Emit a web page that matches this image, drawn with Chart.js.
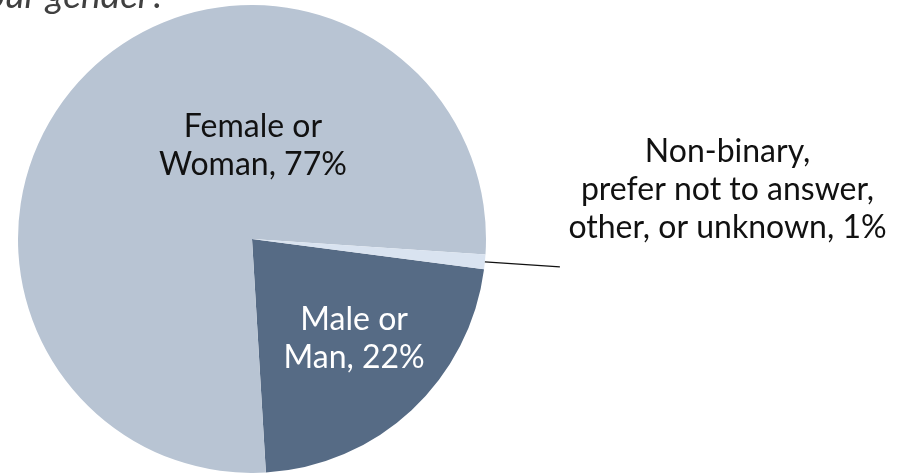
<!DOCTYPE html>
<html>
<head>
<meta charset="utf-8">
<script src="https://cdn.jsdelivr.net/npm/chart.js@4/dist/chart.umd.min.js"></script>
<style>
  html, body { margin: 0; padding: 0; background: #fff; }
  #wrap { width: 899px; height: 473px; position: relative; }
</style>
</head>
<body>
<div id="wrap"><canvas id="pie"></canvas></div>
<script>
// slice order is clockwise starting just below 3 o'clock
const categories = ["Male or Man", "Female or Woman", "Non-binary, prefer not to answer, other, or unknown"]
const shares = [22, 77, 1]
const sliceColors = ["#566b85", "#b8c4d3", "#d9e3f0"]
const labelLines = [
  ["Male or", "Man, 22%"],
  ["Female or", "Woman, 77%"],
  ["Non-binary,", "prefer not to answer,", "other, or unknown, 1%"]
]
const titleText = "What is your gender?"

const FONT = "Lato, 'Open Sans', sans-serif"
const LH = 38

function block(ctx, lines, cx, midY) {
  const n = lines.length
  lines.forEach((t, i) => ctx.fillText(t, cx, midY + (i - (n - 1) / 2) * LH))
}

// draws the in-slice labels, the callout for the tiny slice and the clipped title
const labelsPlugin = {
  id: "sliceLabels",
  afterDatasetsDraw(chart) {
    const ctx = chart.ctx
    const arcs = chart.getDatasetMeta(0).data
    ctx.save()
    ctx.font = "32px " + FONT
    ctx.textAlign = "center"
    ctx.textBaseline = "alphabetic"

    // male: along the mid angle of its slice
    {
      const a = arcs[0]
      const mid = (a.startAngle + a.endAngle) / 2
      ctx.fillStyle = "#ffffff"
      block(ctx, labelLines[0],
        a.x + Math.cos(mid) * a.outerRadius * 0.64,
        a.y + Math.sin(mid) * a.outerRadius * 0.64)
    }
    // female: straight up from the centre
    {
      const a = arcs[1]
      ctx.fillStyle = "#111111"
      block(ctx, labelLines[1], a.x + 1, a.y - a.outerRadius * 0.355)
    }
    // non-binary: leader line out to the right
    {
      const a = arcs[2]
      const mid = (a.startAngle + a.endAngle) / 2
      const x0 = a.x + Math.cos(mid) * a.outerRadius
      const y0 = a.y + Math.sin(mid) * a.outerRadius
      ctx.strokeStyle = "#111111"
      ctx.lineWidth = 1.2
      ctx.beginPath()
      ctx.moveTo(x0, y0)
      ctx.lineTo(x0 + 75, y0 + 5)
      ctx.stroke()
      ctx.fillStyle = "#111111"
      block(ctx, labelLines[2], 727.5, 199.5)
    }

    // title, mostly outside the picture at the top
    ctx.font = "italic 37px " + FONT
    ctx.fillStyle = "#404040"
    ctx.textAlign = "right"
    ctx.fillText(titleText, 166, 8)
    ctx.restore()
  }
}

new Chart(document.getElementById("pie"), {
  type: "pie",
  data: {
    labels: categories,
    datasets: [{
      data: shares,
      backgroundColor: sliceColors,
      borderWidth: 0
    }]
  },
  options: {
    responsive: true,
    maintainAspectRatio: false,
    animation: false,
    rotation: 97.4,
    layout: { padding: { left: 18, right: 413, top: 5, bottom: 0 } },
    plugins: {
      legend: { display: false },
      tooltip: { enabled: false },
      title: { display: false }
    }
  },
  plugins: [labelsPlugin]
})
</script>
</body>
</html>
